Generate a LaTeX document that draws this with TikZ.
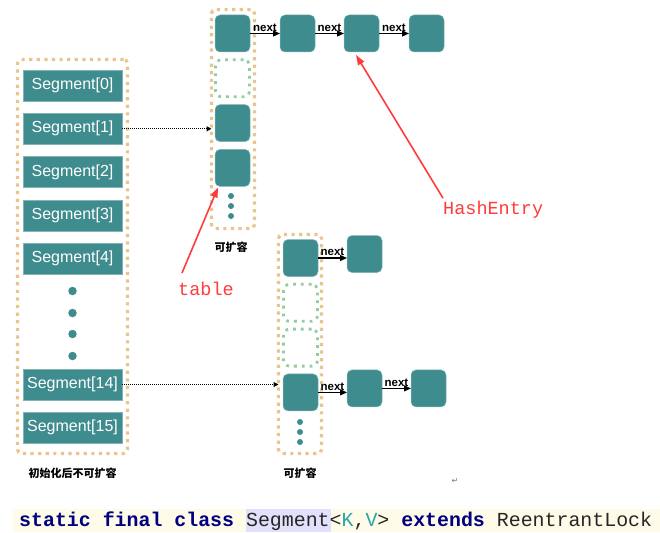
\documentclass[tikz,border=0pt]{standalone}
\usepackage{fontspec}
\usepackage{tikz}
\setmainfont{Liberation Sans}
\setmonofont{Liberation Mono}
\newfontfamily\cjkfont{Noto Sans CJK SC}
\newfontfamily\symfont{DejaVu Sans}
\usetikzlibrary{arrows.meta, positioning}
\definecolor{CellTeal}{HTML}{3E8C8E}
\definecolor{FrameTan}{HTML}{E9C58E}
\definecolor{SlotGreen}{HTML}{93CD9F}
\definecolor{NoteRed}{HTML}{FF3B3B}
\definecolor{CodeBg}{HTML}{FFFBE9}
\definecolor{CodeMark}{HTML}{E1E1FB}
\definecolor{KeyNavy}{HTML}{000080}
\definecolor{TypeTeal}{HTML}{2AA5A8}

\begin{document}
\begin{tikzpicture}[x=1pt, y=-1pt,
    node distance=7.8pt,
    segbox/.style={rectangle, fill=CellTeal, draw=CellTeal!65!white, line width=0.6pt,
                   minimum width=99pt, minimum height=31pt, inner sep=0pt, outer sep=0pt,
                   text=white, font=\fontsize{16}{18}\selectfont},
    cell/.style={rectangle, rounded corners=5pt, fill=CellTeal, draw=CellTeal!65!white,
                 line width=0.5pt, minimum width=35pt, minimum height=37pt, inner sep=0pt, outer sep=0pt},
    slot/.style={rectangle, rounded corners=6pt, draw=SlotGreen, line width=2.8pt,
                 dash pattern=on 2.8pt off 5pt, minimum width=34pt, minimum height=37pt,
                 inner sep=0pt, outer sep=0pt},
    frame/.style={rectangle, rounded corners=4pt, draw=FrameTan, line width=3.2pt,
                  dash pattern=on 3.2pt off 4.4pt, inner sep=0pt, outer sep=0pt},
    bigdot/.style={circle, fill=CellTeal, minimum size=8.5pt, inner sep=0pt},
    smalldot/.style={circle, fill=CellTeal, minimum size=6pt, inner sep=0pt},
    nextlbl/.style={font=\bfseries\fontsize{11.5}{12}\selectfont, inner sep=1.5pt},
    link/.style={-{Triangle[length=7pt, width=6pt]}, line width=1.2pt},
    jump/.style={-{Triangle[length=5pt, width=5pt]}, densely dotted, line width=1pt},
    note/.style={NoteRed, font=\ttfamily\fontsize{18.5}{20}\selectfont, inner sep=0pt},
    pointer/.style={-{Triangle[length=10pt, width=7pt]}, NoteRed, line width=1.6pt},
    caption/.style={font=\cjkfont\bfseries\fontsize{11}{12}\selectfont}
]
    \useasboundingbox (0,0) rectangle (660,532);

    % Segment array
    \node[frame, minimum width=110pt, minimum height=394pt] (segframe) at (72.5,256.5) {};
    \node[segbox] (seg0) at (72.5,85.5) {Segment[0]};
    \node[segbox, below=12.3pt of seg0] (seg1) {Segment[1]};
    \node[segbox, below=12.3pt of seg1] (seg2) {Segment[2]};
    \node[segbox, below=12.3pt of seg2] (seg3) {Segment[3]};
    \node[segbox, below=12.3pt of seg3] (seg4) {Segment[4]};
    \node[bigdot] (sdot1) at (72.5,291) {};
    \node[bigdot] (sdot2) at (72.5,313) {};
    \node[bigdot] (sdot3) at (72.5,334) {};
    \node[bigdot] (sdot4) at (72.5,356) {};
    \node[segbox] (seg14) at (72.5,384.5) {Segment[14]};
    \node[segbox, below=12.3pt of seg14] (seg15) {Segment[15]};
    \node[caption] (segcap) at (72.5,473) {初始化后不可扩容};

    % First table
    \node[frame, minimum width=43pt, minimum height=219pt] (tabA) at (233,119) {};
    \node[cell] (ta0) at (232.5,33.5) {};
    \node[slot, below=of ta0] (ta1) {};
    \node[cell, below=of ta1] (ta2) {};
    \node[cell, below=of ta2] (ta3) {};
    \node[smalldot] (ad1) at (231,196) {};
    \node[smalldot] (ad2) at (231,206) {};
    \node[smalldot] (ad3) at (231,216) {};
    \node[caption] (tabAcap) at (231,247) {可扩容};

    % Entries of the first table
    \node[cell, right=30pt of ta0] (ha1) {};
    \node[cell, right=29pt of ha1] (ha2) {};
    \node[cell, right=30pt of ha2] (ha3) {};
    \draw[link] (ta0.east) -- node[midway, above, nextlbl] (na1) {next} (ha1.west);
    \draw[link] (ha1.east) -- node[midway, above, nextlbl] (na2) {next} (ha2.west);
    \draw[link] (ha2.east) -- node[midway, above, nextlbl] (na3) {next} (ha3.west);

    % Second table
    \node[frame, minimum width=43pt, minimum height=219pt] (tabB) at (300,344) {};
    \node[cell] (tb0) at (300.5,258) {};
    \node[slot, below=of tb0] (tb1) {};
    \node[slot, below=of tb1] (tb2) {};
    \node[cell, below=of tb2] (tb3) {};
    \node[smalldot] (bd1) at (300,422) {};
    \node[smalldot] (bd2) at (300,432) {};
    \node[smalldot] (bd3) at (300,442) {};
    \node[caption] (tabBcap) at (300,473) {可扩容};

    % Entries of the second table
    \node[cell, right=29pt of tb0, yshift=4pt] (hb1) {};
    \node[cell, right=29pt of tb3, yshift=4pt] (hc1) {};
    \node[cell, right=29pt of hc1] (hc2) {};
    \draw[link] (tb0.east) -- node[midway, above, nextlbl] (nb1) {next} (tb0.east -| hb1.west);
    \draw[link] (tb3.east) -- node[midway, above, nextlbl] (nc1) {next} (tb3.east -| hc1.west);
    \draw[link] (hc1.east) -- node[midway, above, nextlbl] (nc2) {next} (hc2.west);

    % Segment to table
    \draw[jump] (seg1.east) -- (seg1.east -| tabA.west);
    \draw[jump] (seg14.east) -- (seg14.east -| tabB.west);

    % Red notes
    \node[note, anchor=west] (hashlbl) at (443,210) {HashEntry};
    \node[note, anchor=west] (tablelbl) at (178,289) {table};
    \draw[pointer] ([yshift=3pt]hashlbl.north west) -- ([xshift=12pt, yshift=-3pt]ha2.south west);
    \draw[pointer] ([xshift=4pt, yshift=9pt]tablelbl.north west) -- ([xshift=3pt, yshift=-1pt]ta3.south west);

    % Code line
    \fill[CodeBg] (13,509) rectangle (660,532);
    \fill[CodeMark] (246,509) rectangle (331,532);
    \node[anchor=base west, inner sep=0pt, text=black!85,
          font=\ttfamily\fontsize{19.9}{22}\selectfont] (codeline) at (19,526)
        {\textcolor{KeyNavy}{\textbf{static final class}} Segment<\textcolor{TypeTeal}{K},\textcolor{TypeTeal}{V}> \textcolor{KeyNavy}{\textbf{extends}} ReentrantLock};
    \node[text=black!55, font=\symfont\fontsize{8}{9}\selectfont] (retmark) at (455,481) {↵};
\end{tikzpicture}
\end{document}
